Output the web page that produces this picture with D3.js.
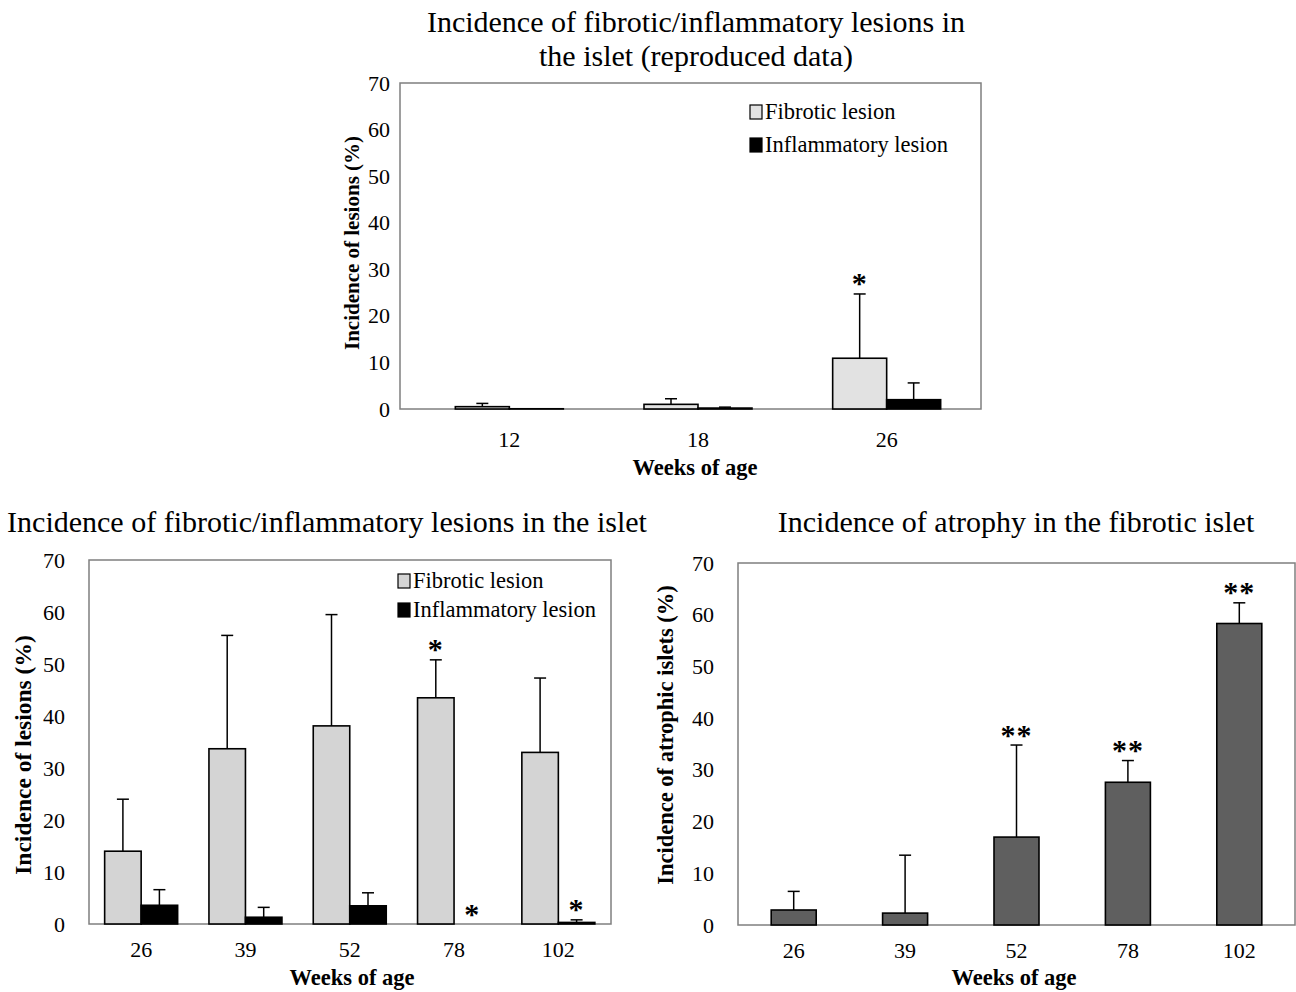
<!DOCTYPE html>
<html>
<head>
<meta charset="utf-8">
<script src="https://cdn.jsdelivr.net/npm/d3@7"></script>
<style>
  body { margin: 0; background: #fff; }
  text { font-family: "Liberation Serif", "Times New Roman", serif; fill: #000; }
</style>
</head>
<body>
<script>
// top panel: reproduced data
var topWeeks = ["12", "18", "26"];
var topFibrotic = [0.5, 1.0, 10.9];
var topFibroticErr = [1.2, 2.2, 24.7];
var topInflam = [0.05, 0.2, 2.0];
var topInflamErr = [0.05, 0.4, 5.6];
var topStars = [["", ""], ["", ""], ["*", ""]];

// bottom left: lesions
var weeks = ["26", "39", "52", "78", "102"];
var fibrotic = [14.0, 33.7, 38.1, 43.5, 33.0];
var fibroticErr = [24.0, 55.5, 59.5, 50.8, 47.3];
var inflam = [3.6, 1.3, 3.5, 0, 0.3];
var inflamErr = [6.6, 3.2, 6.0, 0, 0.8];
var lesionStars = [["", ""], ["", ""], ["", ""], ["*", "*"], ["", "*"]];

// bottom right: atrophy
var atrophy = [2.9, 2.3, 17.0, 27.6, 58.3];
var atrophyErr = [6.5, 13.5, 34.8, 31.8, 62.3];
var atrophyStars = ["", "", "**", "**", "**"];

var yTicks = [0, 10, 20, 30, 40, 50, 60, 70];

var svg = d3.select("body").append("svg")
    .attr("width", 1296)
    .attr("height", 992);

function drawPanel(p) {
    var x = d3.scaleBand().domain(p.cats).range(p.xRange);
    var y = d3.scaleLinear().domain([0, 70]).range([p.bottom, p.top]);
    var g = svg.append("g");

    // frame
    g.append("rect")
        .attr("x", p.left).attr("y", p.top)
        .attr("width", p.right - p.left).attr("height", p.bottom - p.top)
        .attr("fill", "none").attr("stroke", "#7f7f7f").attr("stroke-width", 1.5);

    // y axis labels, no tick lines
    var yAxis = d3.axisLeft(y).tickValues(yTicks).tickSize(0).tickPadding(p.tickPad);
    var ya = g.append("g").attr("transform", "translate(" + p.left + ",0)").call(yAxis);
    ya.select(".domain").remove();
    ya.selectAll("text").attr("font-size", 22).style("font-family", "Liberation Serif");

    var xAxis = d3.axisBottom(x).tickSize(0).tickPadding(p.xPad);
    var xa = g.append("g").attr("transform", "translate(0," + p.bottom + ")").call(xAxis);
    xa.select(".domain").remove();
    xa.selectAll("text").attr("font-size", 22).style("font-family", "Liberation Serif");

    // series
    p.series.forEach(function(s, si) {
        var n = p.series.length;
        var bw = p.barW;
        function bx(i) { return x(p.cats[i]) + x.bandwidth() / 2 - n * bw / 2 + si * bw; }
        g.selectAll(null).data(s.values).enter().append("rect")
            .attr("x", function(d, i) { return bx(i); })
            .attr("y", function(d) { return y(d); })
            .attr("width", bw)
            .attr("height", function(d) { return y(0) - y(d); })
            .attr("fill", s.color).attr("stroke", "#000").attr("stroke-width", 1.6);
        // error bars (upper only)
        s.errs.forEach(function(e, i) {
            if (e <= s.values[i]) return;
            var cx = bx(i) + bw / 2;
            g.append("line").attr("x1", cx).attr("x2", cx)
                .attr("y1", y(s.values[i])).attr("y2", y(e))
                .attr("stroke", "#000").attr("stroke-width", 1.5);
            g.append("line").attr("x1", cx - 6).attr("x2", cx + 6)
                .attr("y1", y(e)).attr("y2", y(e))
                .attr("stroke", "#000").attr("stroke-width", 1.5);
        });
        s.stars.forEach(function(st, i) {
            if (!st) return;
            var top = Math.max(s.errs[i], s.values[i]);
            g.append("text").attr("x", bx(i) + bw / 2).attr("y", y(top) + 7)
                .attr("text-anchor", "middle").attr("font-size", 30).attr("font-weight", "bold")
                .attr("letter-spacing", 1)
                .attr("dy", "-0.25em")
                .text(st);
        });
    });

    // titles
    p.title.forEach(function(t, i) {
        g.append("text").attr("x", p.titleX).attr("y", p.titleY + i * 34)
            .attr("text-anchor", "middle").attr("font-size", 30).text(t);
    });
    g.append("text")
        .attr("transform", "translate(" + p.yTitleX + "," + p.yTitleY + ") rotate(-90)")
        .attr("text-anchor", "middle").attr("font-size", p.yTitleSize).attr("font-weight", "bold")
        .text(p.yTitle);
    g.append("text").attr("x", p.xTitleX).attr("y", p.xTitleY)
        .attr("text-anchor", "middle").attr("font-size", 22.5).attr("font-weight", "bold")
        .text("Weeks of age");

    // legend
    if (p.legend) {
        p.series.forEach(function(s, si) {
            var ly = p.legend.y + si * p.legend.gap;
            g.append("rect").attr("x", p.legend.x).attr("y", ly - 14)
                .attr("width", 12).attr("height", 14)
                .attr("fill", s.color).attr("stroke", "#000").attr("stroke-width", 1.2);
            g.append("text").attr("x", p.legend.x + 15).attr("y", ly)
                .attr("font-size", 22.5).text(s.name);
        });
    }
}

drawPanel({
    cats: topWeeks, left: 400, right: 981, top: 83, bottom: 409, xRange: [415, 981], barW: 54,
    tickPad: 10, xPad: 22,
    series: [
        {name: "Fibrotic lesion", values: topFibrotic, errs: topFibroticErr, color: "#e2e2e2",
         stars: topStars.map(function(d) { return d[0]; })},
        {name: "Inflammatory lesion", values: topInflam, errs: topInflamErr, color: "#000",
         stars: topStars.map(function(d) { return d[1]; })}
    ],
    title: ["Incidence of fibrotic/inflammatory lesions in", "the islet (reproduced data)"],
    titleX: 696, titleY: 32,
    yTitle: "Incidence of lesions (%)", yTitleX: 359, yTitleY: 243, yTitleSize: 21,
    xTitleX: 695, xTitleY: 475,
    legend: {x: 750, y: 119, gap: 33}
});

drawPanel({
    cats: weeks, left: 89, right: 611, top: 560, bottom: 924, xRange: [89, 610.5], barW: 36.5,
    tickPad: 24, xPad: 17,
    series: [
        {name: "Fibrotic lesion", values: fibrotic, errs: fibroticErr, color: "#d4d4d4",
         stars: lesionStars.map(function(d) { return d[0]; })},
        {name: "Inflammatory lesion", values: inflam, errs: inflamErr, color: "#000",
         stars: lesionStars.map(function(d) { return d[1]; })}
    ],
    title: ["Incidence of fibrotic/inflammatory lesions in the islet"],
    titleX: 327, titleY: 532,
    yTitleX: 31, yTitleY: 755, yTitleSize: 23.5,
    yTitle: "Incidence of lesions (%)",
    xTitleX: 352, xTitleY: 985,
    legend: {x: 398, y: 588, gap: 29}
});

drawPanel({
    cats: weeks, left: 738, right: 1295, top: 563, bottom: 925, xRange: [738, 1295], barW: 45,
    tickPad: 24, xPad: 17,
    series: [
        {name: "Atrophy", values: atrophy, errs: atrophyErr, color: "#5f5f5f", stars: atrophyStars}
    ],
    title: ["Incidence of atrophy in the fibrotic islet"],
    titleX: 1016, titleY: 532,
    yTitle: "Incidence of atrophic islets (%)", yTitleX: 673, yTitleY: 735, yTitleSize: 22.5,
    xTitleX: 1014, xTitleY: 985,
    legend: null
});
</script>
</body>
</html>
